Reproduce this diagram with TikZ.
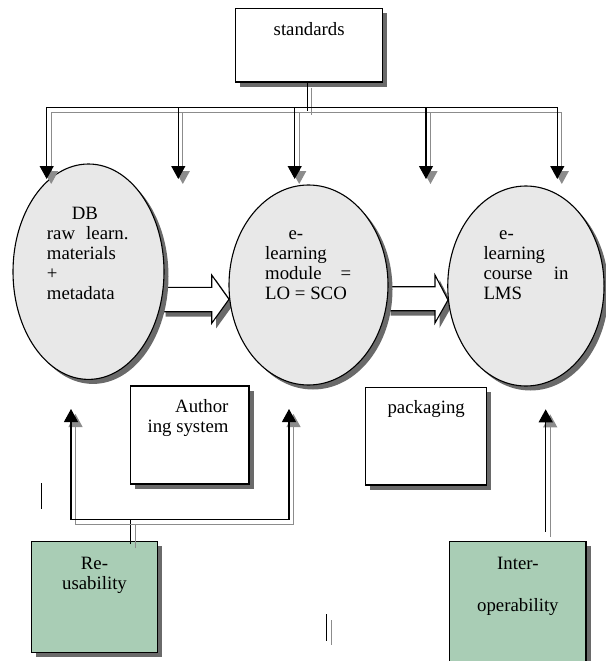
\documentclass[tikz,border=0pt]{standalone}
\usepackage{fontspec}
\setmainfont{Liberation Serif}
\usetikzlibrary{arrows.meta,shapes.geometric,shadows}
\definecolor{shgray}{HTML}{6A6A6A}
\definecolor{lgray}{HTML}{8C8C8C}
\definecolor{elfill}{HTML}{E8E8E8}
\definecolor{grn}{HTML}{A9CDB5}
\begin{document}
\begin{tikzpicture}[x=1pt,y=-1pt,
  txt/.style={font=\fontsize{18.8}{20}\selectfont, inner sep=0pt},
  boxshadow/.style={drop shadow={shadow xshift=4.5pt,shadow yshift=-4.5pt,fill=shgray,opacity=1}},
  box/.style={draw, line width=1.1pt, rectangle, inner sep=0pt, fill=white, boxshadow},
  oval/.style={draw, line width=1.1pt, ellipse, inner sep=0pt, fill=elfill, boxshadow},
  conn/.style={line width=1.1pt, line cap=rect, line join=miter, preaction={draw=lgray, line width=1.1pt, transform canvas={shift={(4.5pt,-5pt)}}}},
  arr/.style={-{Triangle[length=13pt,width=14pt]}},
  arrtwo/.style={{Triangle[length=13pt,width=14pt]}-{Triangle[length=13pt,width=14pt]}},
  blockarrow/.style={draw, line width=1.1pt, fill=white, line join=miter, preaction={fill=shgray, transform canvas={shift={(4.5pt,-5pt)}}}}
]
\fill[white] (0,0) rectangle (605,661);
\useasboundingbox (0,0) rectangle (605,661);

% block arrows
\draw[blockarrow] (161,287.3) -- (211.7,287.3) -- (211.7,275) -- (229,299.3) -- (211.7,323.3) -- (211.7,311.7) -- (161,311.7);
\draw[blockarrow] (386,286.7) -- (435,286.7) -- (435,275) -- (448,300) -- (435,323) -- (435,310.7) -- (386,310.7);

% ellipses
\node[oval, minimum width=151pt, minimum height=215.4pt] (e1) at (88.5,271.7) {};
\node[oval, minimum width=159pt, minimum height=200pt] (e2) at (308.5,285) {};
\node[oval, minimum width=156.3pt, minimum height=200pt] (e3) at (525.9,286) {};

% boxes
\node[box, minimum width=147pt, minimum height=73.7pt] (std) at (309.2,45.15) {};
\node[box, minimum width=118.3pt, minimum height=98pt] (auth) at (189.85,435) {};
\node[box, minimum width=121pt, minimum height=97.3pt] (pack) at (426.2,436.35) {};
\node[box, fill=grn, minimum width=125.6pt, minimum height=111pt] (reu) at (94.5,597.2) {};
\node[box, fill=grn, minimum width=136.2pt, minimum height=130pt] (inter) at (517.9,606.7) {};

% top distribution
\coordinate (bus) at (0,107.3);
\coordinate (j) at (307.3,110);
\coordinate (t1) at (46.7,179);
\coordinate (t2) at (178.3,179);
\coordinate (t3) at (294.7,179);
\coordinate (t4) at (426,179);
\coordinate (t5) at (557.3,179);
\draw[conn] (std.south -| j) -- (j);
\draw[conn, arrtwo] (t1) -- (t1 |- bus) -- (t5 |- bus) -- (t5);
\draw[conn, arr] (t2 |- bus) -- (t2);
\draw[conn, arr] (t3 |- bus) -- (t3);
\draw[conn, arr] (t4 |- bus) -- (t4);

% bottom connectors
\coordinate (ubus) at (0,519.3);
\coordinate (rs) at (130.7,543);
\coordinate (lt) at (71,409);
\coordinate (rt) at (289,409);
\draw[conn] (rs) -- (rs |- ubus);
\draw[conn, arrtwo] (lt) -- (lt |- ubus) -- (rt |- ubus) -- (rt);
\coordinate (is) at (545.7,531.7);
\coordinate (it) at (545.7,409.3);
\draw[conn, arr] (is) -- (it);

% stray marks
\coordinate (s1a) at (41.7,483);
\coordinate (s1b) at (41.7,509);
\draw[line width=1pt] (s1a) -- (s1b);
\coordinate (s2a) at (326.6,615);
\coordinate (s2b) at (326.6,640);
\draw[conn] (s2a) -- (s2b);

% texts
\node[txt, anchor=base] (stdt) at (309.2,36) {standards};
\node[txt, anchor=north west, align=left] (e1t) at (46.7,206.7) {\hspace*{25pt}DB\\\makebox[81.6pt][s]{raw learn.}\\materials\\+\\metadata};
\node[txt, anchor=north west, align=left] (e2t) at (265,230.8) {\hspace*{23.3pt}e-\\learning\\\makebox[86pt][s]{module =}\\LO = SCO};
\node[txt, anchor=north west, align=left] (e3t) at (483.3,230.8) {\hspace*{15.7pt}e-\\learning\\\makebox[85pt][s]{course in}\\LMS};
\node[txt, anchor=north east, align=right] (autht) at (228.7,399.3) {Author\\ing system};
\node[txt, anchor=base] (packt) at (426.2,413.3) {packaging};
\node[txt, anchor=north, align=center] (reut) at (94.5,556.7) {Re-\\usability};
\node[txt, anchor=north, align=center] (intert) at (517.9,556.7) {Inter-\\[22pt]operability};
\end{tikzpicture}
\end{document}
